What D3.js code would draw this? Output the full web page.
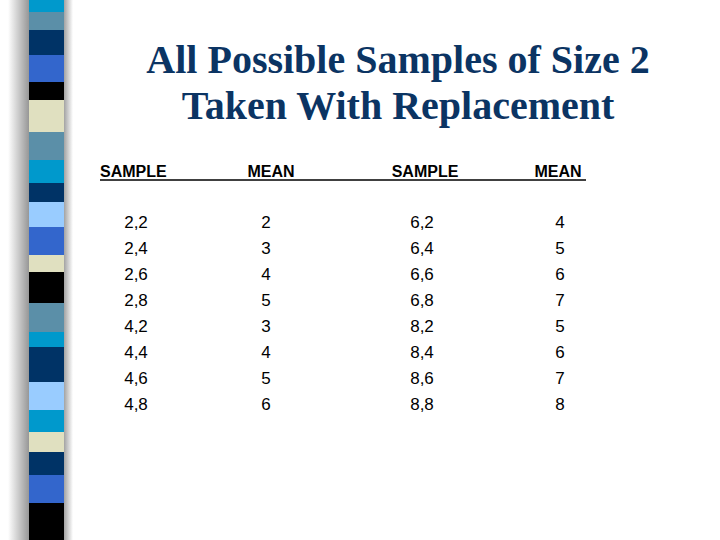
<!DOCTYPE html><html><head><meta charset="utf-8"><script src="https://cdn.jsdelivr.net/npm/d3@7"></script>
<style>body{margin:0;background:#fff}</style></head><body><svg id="c" width="720" height="540"></svg>
<script>
const title = ["All Possible Samples of Size 2", "Taken With Replacement"];
const headers = ["SAMPLE", "MEAN", "SAMPLE", "MEAN"];
const samplesLeft = ["2,2","2,4","2,6","2,8","4,2","4,4","4,6","4,8"];
const meansLeft = [2,3,4,5,3,4,5,6];
const samplesRight = ["6,2","6,4","6,6","6,8","8,2","8,4","8,6","8,8"];
const meansRight = [4,5,6,7,5,6,7,8];
const stripeColors = ["#0099cc","#5b8fa8","#003366","#3366cc","#000000","#e0e0c0","#5b8fa8","#0099cc","#003366","#99ccff","#3366cc","#e0e0c0","#000000","#5b8fa8","#0099cc","#003366","#99ccff","#0099cc","#e0e0c0","#003366","#3366cc","#000000"];
const stripeBreaks = [0,12,30,55,82,100,132,160,183,202,227,255,272,303,332,347,382,410,432,452,475,503,540];

const svg = d3.select("#c");
const defs = svg.append("defs");
const g = defs.append("linearGradient").attr("id","sh");
g.append("stop").attr("offset","0").attr("stop-color","#fff");
g.append("stop").attr("offset","1").attr("stop-color","#888");
svg.append("rect").attr("x",8).attr("y",0).attr("width",24).attr("height",540).attr("fill","url(#sh)");
const g2 = defs.append("linearGradient").attr("id","sh2");
g2.append("stop").attr("offset","0").attr("stop-color","#999");
g2.append("stop").attr("offset","1").attr("stop-color","#fff");
svg.append("rect").attr("x",63).attr("y",0).attr("width",10).attr("height",540).attr("fill","url(#sh2)");
const sy = d3.scaleLinear().domain([0,540]).range([0,540]);
svg.selectAll("rect.s").data(stripeColors).join("rect").attr("class","s")
  .attr("x",29).attr("width",35)
  .attr("y",(d,i)=>sy(stripeBreaks[i])).attr("height",(d,i)=>sy(stripeBreaks[i+1])-sy(stripeBreaks[i]))
  .attr("fill",d=>d);

svg.selectAll("text.t").data(title).join("text").attr("class","t")
  .attr("x",398).attr("y",(d,i)=>73+i*46).attr("text-anchor","middle")
  .attr("font-family","Liberation Serif, Times New Roman, serif").attr("font-weight","bold")
  .attr("font-size",40).attr("fill","#0b3463").text(d=>d);

const colX = [136,266,422,560];
const hx = [100,271,425,558];
svg.selectAll("text.h").data(headers).join("text").attr("class","h")
  .attr("x",(d,i)=>hx[i]).attr("y",177).attr("text-anchor",(d,i)=>i==0?"start":"middle")
  .attr("font-family","Liberation Sans, Arial, sans-serif").attr("font-weight","bold").attr("font-size",16).text(d=>d);
svg.append("line").attr("x1",100).attr("x2",586).attr("y1",180).attr("y2",180).attr("stroke","#000").attr("stroke-width",1.5);

const y = d3.scaleBand().domain(d3.range(8)).range([209,417]);
const cols = [samplesLeft, meansLeft, samplesRight, meansRight];
cols.forEach((arr,c)=>{
  svg.selectAll("text.c"+c).data(arr).join("text").attr("class","c"+c)
    .attr("x",colX[c]).attr("y",(d,i)=>y(i)+y.bandwidth()/2+6).attr("text-anchor","middle")
    .attr("font-family","Liberation Sans, Arial, sans-serif").attr("font-size",17).text(d=>d);
});
</script></body></html>
